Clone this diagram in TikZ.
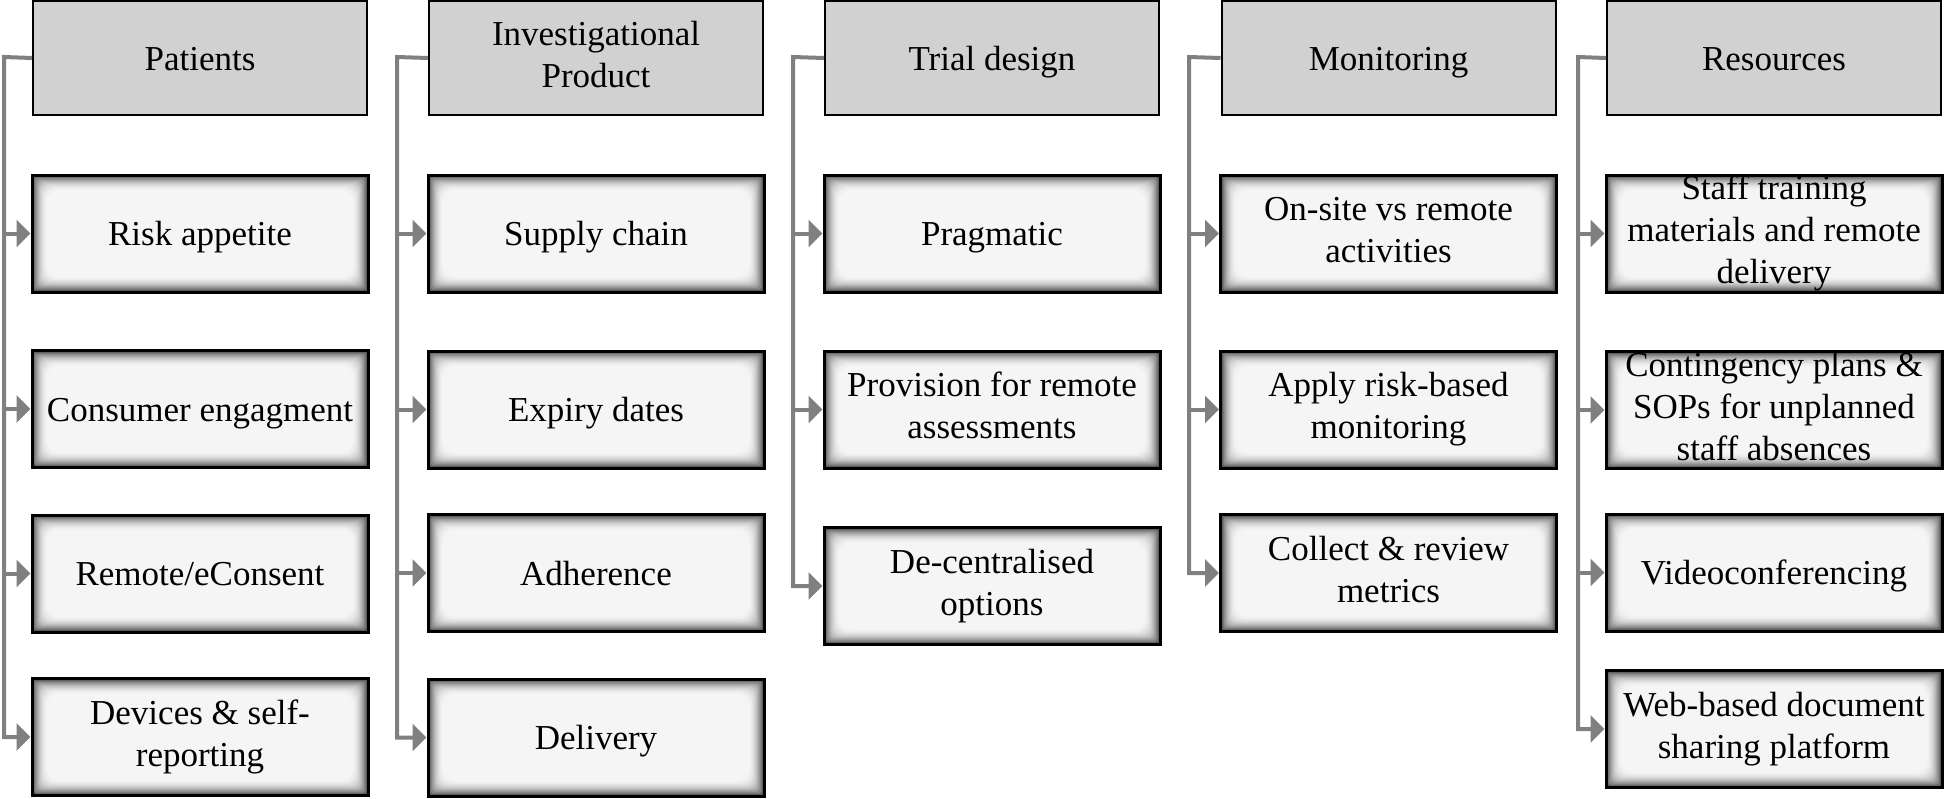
\documentclass[tikz,border=0pt]{standalone}
\usepackage{fontspec}
\setmainfont{Liberation Serif}
\usetikzlibrary{arrows.meta,calc}
\definecolor{hdrfill}{RGB}{209,209,209}
\definecolor{boxfill}{RGB}{245,245,245}
\definecolor{connc}{RGB}{128,128,128}
\tikzset{
  txt/.style={align=center, inner sep=0pt,
    font=\fontsize{17.5pt}{21pt}\selectfont,
    execute at begin node={\rule{0pt}{16pt}},
    execute at end node={\rule[-4pt]{0pt}{4pt}}},
  hdr/.style={txt, draw=black, line width=1pt, fill=hdrfill, minimum width=167pt,
    minimum height=57pt},
  cbox/.style={txt, draw=black, line width=1.5pt, fill=boxfill, minimum width=168pt,
    minimum height=58.5pt,
    path picture={
      \foreach \i in {0,...,16}{
        \pgfmathtruncatemacro\sh{72*(1-\i/17)^2.2}
        \pgfmathsetmacro\rr{\i*0.45}
        \fill[black!\sh!boxfill, rounded corners=\rr pt]
          ([shift={(\i*0.5pt,\i*0.5pt)}]path picture bounding box.south west)
          rectangle
          ([shift={(-\i*0.5pt,-\i*0.5pt)}]path picture bounding box.north east);
      }
    }},
  cline/.style={draw=connc, line width=2pt, line join=miter},
  carrow/.style={cline, -{Triangle[length=7pt,width=13.5pt]}}
}
\begin{document}
\begin{tikzpicture}[x=0.5pt,y=-0.5pt]
\useasboundingbox (0,0) rectangle (1944,798);
% column 1
\node[hdr] (h1) at (200,58) {Patients};
\node[cbox] (a1) at (200,233.5) {Risk appetite};
\node[cbox] (a2) at (200,409) {Consumer engagment};
\node[cbox] (a3) at (200,573.5) {Remote/eConsent};
\node[cbox] (a4) at (200,737) {Devices \& self-\\reporting};
% column 2
\node[hdr] (h2) at (596,58) {Investigational\\Product};
\node[cbox] (b1) at (596,233.5) {Supply chain};
\node[cbox] (b2) at (596,409.5) {Expiry dates};
\node[cbox] (b3) at (596,573) {Adherence};
\node[cbox] (b4) at (596,737.5) {Delivery};
% column 3
\node[hdr] (h3) at (992,58) {Trial design};
\node[cbox] (c1) at (992,233.5) {Pragmatic};
\node[cbox] (c2) at (992,409.5) {Provision for remote\\assessments};
\node[cbox] (c3) at (992,586) {De-centralised\\options};
% column 4
\node[hdr] (h4) at (1388.5,58) {Monitoring};
\node[cbox] (d1) at (1388.5,233.5) {On-site vs remote\\activities};
\node[cbox] (d2) at (1388.5,409.5) {Apply risk-based\\monitoring};
\node[cbox] (d3) at (1388.5,573) {Collect \& review\\metrics};
% column 5
\node[hdr] (h5) at (1774,58) {Resources};
\node[cbox] (e1) at (1774,233.5) {Staff training\\materials and remote\\delivery};
\node[cbox] (e2) at (1774,410) {Contingency plans \&\\SOPs for unplanned\\staff absences};
\node[cbox] (e3) at (1774,572.5) {Videoconferencing};
\node[cbox] (e4) at (1774,729) {Web-based document\\sharing platform};
% connectors
\coordinate (v1) at (4,57);
\coordinate (v2) at (397,57);
\coordinate (v3) at (793,57);
\coordinate (v4) at (1189,57);
\coordinate (v5) at (1578,57);
\draw[carrow] (h1.west) -- (v1) |- (a4.west);
\foreach \n in {a1,a2,a3} \draw[carrow] (v1 |- \n.west) -- (\n.west);
\draw[carrow] (h2.west) -- (v2) |- (b4.west);
\foreach \n in {b1,b2,b3} \draw[carrow] (v2 |- \n.west) -- (\n.west);
\draw[carrow] (h3.west) -- (v3) |- (c3.west);
\foreach \n in {c1,c2} \draw[carrow] (v3 |- \n.west) -- (\n.west);
\draw[carrow] (h4.west) -- (v4) |- (d3.west);
\foreach \n in {d1,d2} \draw[carrow] (v4 |- \n.west) -- (\n.west);
\draw[carrow] (h5.west) -- (v5) |- (e4.west);
\foreach \n in {e1,e2,e3} \draw[carrow] (v5 |- \n.west) -- (\n.west);
\end{tikzpicture}
\end{document}
